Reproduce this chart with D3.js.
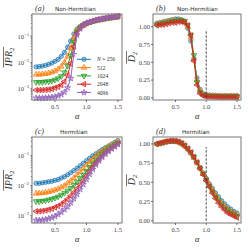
<!DOCTYPE html>
<html>
<head>
<meta charset="utf-8">
<script src="https://cdn.jsdelivr.net/npm/d3@7"></script>
<style>
body { margin: 0; background: #fff; }
text { font-family: "Liberation Serif", "DejaVu Serif", serif; }
</style>
</head>
<body>
<script>
var W = 249, H = 249;

// alpha grid
var alpha = [0.2,0.25,0.3,0.35,0.4,0.45,0.5,0.55,0.6,0.65,0.7,0.75,0.8,0.85,0.9,0.95,1.0,
             1.05,1.1,1.15,1.2,1.25,1.3,1.35,1.4,1.45,1.5];
var sizes = ["256", "512", "1024", "2048", "4096"];

// (a) non-hermitian IPR
var ipr_nh_256  = [0.0068,0.007,0.0073,0.0078,0.0085,0.0095,0.011,0.013,0.017,0.024,0.038,0.065,0.12,0.18,0.23,0.27,0.3,0.33,0.36,0.38,0.41,0.43,0.45,0.47,0.49,0.51,0.53];
var ipr_nh_512  = [0.0035,0.0035,0.0036,0.0037,0.0039,0.0042,0.0047,0.0055,0.007,0.01,0.017,0.035,0.09,0.17,0.22,0.27,0.3,0.33,0.36,0.39,0.41,0.43,0.46,0.48,0.5,0.52,0.54];
var ipr_nh_1024 = [0.0018,0.0018,0.0018,0.0019,0.0019,0.002,0.0022,0.0025,0.003,0.0042,0.0075,0.018,0.06,0.15,0.21,0.26,0.3,0.34,0.37,0.4,0.42,0.44,0.46,0.49,0.51,0.53,0.55];
var ipr_nh_2048 = [0.0009,0.0009,0.0009,0.00092,0.00095,0.001,0.0011,0.0012,0.0014,0.0019,0.0033,0.009,0.04,0.13,0.2,0.26,0.31,0.34,0.37,0.4,0.42,0.45,0.47,0.49,0.51,0.53,0.56];
var ipr_nh_4096 = [0.00045,0.00045,0.00045,0.00046,0.00047,0.00048,0.0005,0.00055,0.00062,0.00075,0.0011,0.0025,0.02,0.11,0.19,0.26,0.31,0.34,0.37,0.4,0.43,0.45,0.47,0.5,0.52,0.54,0.56];

// (b) non-hermitian D2
var d2_nh_256  = [1.05,1.06,1.07,1.08,1.09,1.10,1.11,1.11,1.10,1.07,0.98,0.8,0.55,0.28,0.12,0.06,0.045,0.04,0.035,0.035,0.03,0.03,0.03,0.03,0.03,0.03,0.03];
var d2_nh_512  = [1.04,1.05,1.06,1.07,1.08,1.09,1.09,1.09,1.09,1.07,1.0,0.85,0.55,0.25,0.1,0.05,0.035,0.03,0.03,0.028,0.027,0.026,0.025,0.025,0.025,0.025,0.025];
var d2_nh_1024 = [1.03,1.04,1.05,1.06,1.07,1.08,1.08,1.09,1.09,1.08,1.02,0.88,0.6,0.22,0.08,0.04,0.03,0.025,0.025,0.022,0.02,0.02,0.02,0.02,0.02,0.02,0.02];
var d2_nh_2048 = [1.02,1.03,1.03,1.04,1.05,1.06,1.06,1.07,1.07,1.06,1.02,0.88,0.52,0.18,0.06,0.03,0.02,0.015,0.015,0.012,0.012,0.01,0.01,0.01,0.01,0.01,0.01];

// (c) hermitian IPR
var ipr_h_256  = [0.012,0.012,0.0125,0.013,0.0135,0.014,0.015,0.016,0.018,0.02,0.023,0.027,0.032,0.038,0.046,0.056,0.068,0.082,0.098,0.115,0.135,0.16,0.185,0.21,0.24,0.28,0.32];
var ipr_h_512  = [0.0055,0.0056,0.0057,0.0059,0.0062,0.0066,0.0071,0.0078,0.0088,0.01,0.012,0.0145,0.018,0.023,0.029,0.037,0.048,0.062,0.078,0.097,0.12,0.145,0.17,0.2,0.23,0.26,0.3];
var ipr_h_1024 = [0.003,0.003,0.0031,0.0032,0.0034,0.0036,0.0039,0.0043,0.0049,0.0057,0.0068,0.0083,0.0105,0.0135,0.0175,0.023,0.031,0.042,0.056,0.073,0.093,0.117,0.143,0.17,0.2,0.235,0.27];
var ipr_h_2048 = [0.0014,0.0014,0.00145,0.0015,0.0016,0.0017,0.0019,0.0021,0.0024,0.0029,0.0036,0.0046,0.006,0.008,0.011,0.015,0.021,0.03,0.042,0.057,0.075,0.097,0.122,0.15,0.18,0.21,0.25];
var ipr_h_4096 = [0.0007,0.0007,0.00072,0.00075,0.0008,0.00086,0.00095,0.0011,0.0013,0.0016,0.002,0.0027,0.0037,0.0052,0.0075,0.011,0.016,0.024,0.035,0.05,0.068,0.09,0.115,0.14,0.17,0.2,0.24];

// (d) hermitian D2
var d2_h_256  = [1.0,1.01,1.02,1.03,1.03,1.03,1.03,1.02,1.0,0.97,0.93,0.88,0.82,0.76,0.69,0.62,0.55,0.48,0.42,0.36,0.31,0.26,0.22,0.18,0.15,0.12,0.1];
var d2_h_512  = [1.0,1.01,1.02,1.03,1.03,1.04,1.03,1.02,1.0,0.97,0.93,0.88,0.82,0.75,0.68,0.61,0.54,0.47,0.4,0.34,0.28,0.23,0.19,0.15,0.12,0.1,0.08];
var d2_h_1024 = [1.0,1.01,1.02,1.03,1.04,1.04,1.04,1.03,1.01,0.98,0.94,0.89,0.83,0.76,0.68,0.61,0.53,0.45,0.38,0.31,0.26,0.21,0.16,0.13,0.1,0.08,0.06];
var d2_h_2048 = [1.0,1.01,1.02,1.03,1.04,1.04,1.04,1.03,1.01,0.98,0.94,0.89,0.83,0.76,0.68,0.6,0.52,0.44,0.36,0.29,0.23,0.18,0.14,0.1,0.08,0.06,0.04];

var colors = ["#1f77b4", "#ff7f0e", "#2ca02c", "#d62728", "#9467bd"];
var shapes = [
  {t: d3.symbolCircle, rot: 0, s: 14},
  {t: d3.symbolTriangle, rot: 0, s: 13},
  {t: d3.symbolTriangle, rot: 180, s: 13},
  {t: d3.symbolTriangle, rot: -90, s: 13},
  {t: d3.symbolStar, rot: 0, s: 12}
];

var svg = d3.select("body").append("svg")
  .attr("width", W).attr("height", H);

function sup(sel, base, exp) {
  sel.append("tspan").text(base);
  sel.append("tspan").attr("dy", -3).attr("font-size", "4.6px").text(exp);
}

function panel(cfg) {
  var x = d3.scaleLinear().domain([0.135, 1.565]).range([cfg.x0, cfg.x1]);
  var y = (cfg.log ? d3.scaleLog() : d3.scaleLinear()).domain(cfg.ydom).range([cfg.y1, cfg.y0]);
  var g = svg.append("g");

  // data
  cfg.series.forEach(function(vals, i) {
    var line = d3.line().x(function(d, j) { return x(alpha[j]); }).y(function(d) { return y(d); });
    g.append("path").attr("d", line(vals)).attr("fill", "none")
      .attr("stroke", colors[i]).attr("stroke-width", 1);
    var sym = d3.symbol().type(shapes[i].t).size(shapes[i].s);
    g.selectAll(null).data(vals).enter().append("path")
      .attr("d", sym)
      .attr("transform", function(d, j) {
        return "translate(" + x(alpha[j]) + "," + y(d) + ") rotate(" + shapes[i].rot + ")";
      })
      .attr("fill", colors[i]).attr("fill-opacity", 0.35)
      .attr("stroke", colors[i]).attr("stroke-width", 0.8);
  });

  if (cfg.dash) {
    g.append("line").attr("x1", x(1)).attr("x2", x(1))
      .attr("y1", y(0)).attr("y2", y(0.96))
      .attr("stroke", "#222").attr("stroke-width", 0.8).attr("stroke-dasharray", "2.5,1.5");
  }

  // frame
  g.append("rect").attr("x", cfg.x0).attr("y", cfg.y0)
    .attr("width", cfg.x1 - cfg.x0).attr("height", cfg.y1 - cfg.y0)
    .attr("fill", "none").attr("stroke", "#777").attr("stroke-width", 1);

  // x axis
  [0.5, 1.0, 1.5].forEach(function(t) {
    g.append("line").attr("x1", x(t)).attr("x2", x(t)).attr("y1", cfg.y1).attr("y2", cfg.y1 + 2)
      .attr("stroke", "#333").attr("stroke-width", 0.7);
    g.append("text").attr("x", x(t)).attr("y", cfg.y1 + 8.5).attr("text-anchor", "middle")
      .attr("font-size", "6.5px").attr("fill", "#444").text(t.toFixed(1));
  });
  g.append("text").attr("x", (cfg.x0 + cfg.x1) / 2).attr("y", cfg.y1 + 19)
    .attr("text-anchor", "middle").attr("font-size", "9px").attr("font-style", "italic")
    .attr("fill", "#333").text("α");

  // y axis
  if (cfg.log) {
    var lo = Math.floor(Math.log10(cfg.ydom[0])), hi = Math.ceil(Math.log10(cfg.ydom[1]));
    for (var e = lo; e <= hi; e++) {
      for (var m = 1; m < 10; m++) {
        var v = m * Math.pow(10, e);
        if (v < cfg.ydom[0] || v > cfg.ydom[1]) continue;
        g.append("line").attr("x1", cfg.x0).attr("x2", cfg.x0 - (m === 1 ? 2 : 1.2))
          .attr("y1", y(v)).attr("y2", y(v)).attr("stroke", "#333").attr("stroke-width", 0.5);
        if (m === 1) {
          var tx = g.append("text").attr("x", cfg.x0 - 3).attr("y", y(v) + 2.5)
            .attr("text-anchor", "end").attr("font-size", "6.5px").attr("fill", "#444");
          sup(tx, "10", "−" + (-e));
        }
      }
    }
  } else {
    cfg.yticks.forEach(function(t) {
      g.append("line").attr("x1", cfg.x0).attr("x2", cfg.x0 - 2).attr("y1", y(t)).attr("y2", y(t))
        .attr("stroke", "#333").attr("stroke-width", 0.7);
      g.append("text").attr("x", cfg.x0 - 3).attr("y", y(t) + 2.2).attr("text-anchor", "end")
        .attr("font-size", "6.5px").attr("fill", "#444").text(t.toFixed(2));
    });
  }

  // y label with overline
  var cy = (cfg.y0 + cfg.y1) / 2;
  var lab = g.append("text").attr("transform", "translate(" + cfg.lx + "," + cy + ") rotate(-90)")
    .attr("text-anchor", "middle").attr("font-size", "10px").attr("font-style", "italic").attr("fill", "#333");
  lab.append("tspan").text(cfg.ylab);
  lab.append("tspan").attr("dy", 2).attr("font-size", "7px").attr("font-style", "normal").text("2");
  var bb = lab.node().getBBox();
  g.append("line").attr("transform", "translate(" + cfg.lx + "," + cy + ") rotate(-90)")
    .attr("x1", bb.x).attr("x2", bb.x + bb.width).attr("y1", bb.y + 0.5).attr("y2", bb.y + 0.5)
    .attr("stroke", "#333").attr("stroke-width", 0.7);

  // title
  g.append("text").attr("x", cfg.x0 + 3).attr("y", cfg.y0 - 3).attr("font-size", "8px")
    .attr("font-style", "italic").attr("fill", "#333").text(cfg.tag);
  g.append("text").attr("x", cfg.x0 + cfg.tdx).attr("y", cfg.y0 - 3.5)
    .attr("font-family", "DejaVu Sans, sans-serif").style("font-family", "'DejaVu Sans', sans-serif")
    .attr("font-size", "5.6px").attr("fill", "#222").text(cfg.title);

  return {x: x, y: y, g: g};
}

var pa = panel({x0: 32, x1: 122, y0: 14, y1: 100, log: true, ydom: [3.8e-4, 0.68],
  series: [ipr_nh_256, ipr_nh_512, ipr_nh_1024, ipr_nh_2048, ipr_nh_4096],
  ylab: "IPR", lx: 12, tag: "(a)", title: "Non-Hermitian", tdx: 23});
panel({x0: 153, x1: 241, y0: 14, y1: 100, log: false, ydom: [-0.03, 1.18],
  yticks: [0, 0.25, 0.5, 0.75, 1.0],
  series: [d2_nh_256, d2_nh_512, d2_nh_1024, d2_nh_2048],
  ylab: "D", lx: 135, tag: "(b)", title: "Non-Hermitian", tdx: 24, dash: true});
panel({x0: 32, x1: 122, y0: 137, y1: 223, log: true, ydom: [5.7e-4, 0.42],
  series: [ipr_h_256, ipr_h_512, ipr_h_1024, ipr_h_2048, ipr_h_4096],
  ylab: "IPR", lx: 12, tag: "(c)", title: "Hermitian", tdx: 28});
panel({x0: 153, x1: 241, y0: 137, y1: 223, log: false, ydom: [-0.03, 1.09],
  yticks: [0, 0.25, 0.5, 0.75, 1.0],
  series: [d2_h_256, d2_h_512, d2_h_1024, d2_h_2048],
  ylab: "D", lx: 135, tag: "(d)", title: "Hermitian", tdx: 29, dash: true});

// legend in (a)
var leg = svg.append("g");
leg.append("rect").attr("x", 75).attr("y", 54).attr("width", 46).attr("height", 43)
  .attr("fill", "#fff").attr("fill-opacity", 0.8);
sizes.forEach(function(s, i) {
  var ly = 59.3 + i * 8.3;
  leg.append("line").attr("x1", 77).attr("x2", 91).attr("y1", ly).attr("y2", ly)
    .attr("stroke", colors[i]).attr("stroke-width", 1);
  leg.append("path").attr("d", d3.symbol().type(shapes[i].t).size(shapes[i].s)())
    .attr("transform", "translate(84," + ly + ") rotate(" + shapes[i].rot + ")")
    .attr("fill", colors[i]).attr("fill-opacity", 0.35).attr("stroke", colors[i]).attr("stroke-width", 0.8);
  var t = leg.append("text").attr("x", 97).attr("y", ly + 2).attr("font-size", "5.6px").attr("fill", "#333");
  if (i === 0) {
    t.append("tspan").attr("font-style", "italic").text("N");
    t.append("tspan").text(" = " + s);
  } else {
    t.text(s);
  }
});
</script>
</body>
</html>
